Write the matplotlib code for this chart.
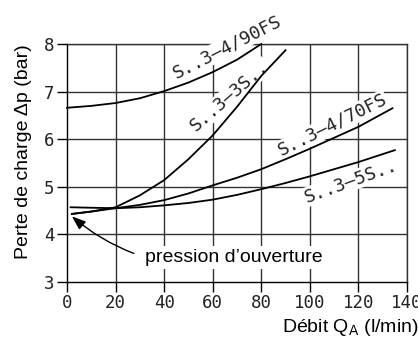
import matplotlib
matplotlib.use("Agg")
import matplotlib.pyplot as plt

# Data
q_90fs = [0, 10, 20, 30, 40, 50, 60, 70, 80]
p_90fs = [6.66, 6.70, 6.76, 6.86, 7.01, 7.19, 7.41, 7.67, 8.0]

q_3s = [2, 10, 20, 30, 40, 50, 60, 70, 80, 90]
p_3s = [4.43, 4.48, 4.57, 4.82, 5.14, 5.58, 6.08, 6.68, 7.33, 7.87]

q_70fs = [2, 10, 20, 30, 40, 50, 60, 70, 80, 90, 100, 110, 120, 134]
p_70fs = [4.43, 4.48, 4.55, 4.62, 4.72, 4.86, 5.03, 5.19, 5.37, 5.58, 5.80, 6.03, 6.26, 6.65]

q_5s = [1.5, 10, 20, 30, 40, 50, 60, 70, 80, 90, 100, 110, 120, 135]
p_5s = [4.57, 4.56, 4.55, 4.57, 4.61, 4.66, 4.73, 4.83, 4.95, 5.08, 5.22, 5.37, 5.52, 5.77]

curve_labels = ["S..3\u20134/90FS", "S..3\u20133S..", "S..3\u20134/70FS", "S..3\u20135S.."]

x_ticks = [0, 20, 40, 60, 80, 100, 120, 140]
y_ticks = [3, 4, 5, 6, 7, 8]

fig = plt.figure(figsize=(4.18, 3.40), dpi=100)
ax = fig.add_axes([67/418, 1-282/340, 340/418, 238/340])
ax.set_xlim(0, 140)
ax.set_ylim(3, 8)

grid_c = "#333333"
for xv in x_ticks[1:]:
    ax.axvline(xv, color=grid_c, lw=1.0, zorder=1)
for yv in y_ticks[1:]:
    ax.axhline(yv, color=grid_c, lw=1.0, zorder=1)

for s in ["top", "right"]:
    ax.spines[s].set_color(grid_c)
for s in ["left", "bottom"]:
    ax.spines[s].set_color("black")
for s in ax.spines.values():
    s.set_linewidth(1.0)
    s.set_zorder(1)

lc = "black"
ax.plot(q_90fs, p_90fs, color=lc, lw=1.3, zorder=3, clip_on=False)
ax.plot(q_3s, p_3s, color=lc, lw=1.3, zorder=3, clip_on=False)
ax.plot(q_70fs, p_70fs, color=lc, lw=1.3, zorder=3, clip_on=False)
ax.plot(q_5s, p_5s, color=lc, lw=1.3, zorder=3, clip_on=False)

mono = "DejaVu Sans Mono"
ax.set_xticks(x_ticks)
ax.set_yticks(y_ticks)
ax.set_xticklabels([str(v) for v in x_ticks], fontfamily=mono, fontsize=12.5, color="#222222")
ax.set_yticklabels([str(v) for v in y_ticks], fontfamily=mono, fontsize=12.5, color="#222222")
ax.tick_params(direction="out", length=7, width=1.0, color="black", pad=2)

bb = dict(boxstyle="square,pad=0.05", fc="white", ec="none")
lfs = 13
tc = "#222222"
ax.text(66, 7.94, curve_labels[0], rotation=27, ha="center", va="center",
        fontfamily=mono, fontsize=lfs, color=tc, bbox=bb, zorder=2, clip_on=False)
ax.text(67, 6.91, curve_labels[1], rotation=41, ha="center", va="center",
        fontfamily=mono, fontsize=lfs, color=tc, bbox=bb, zorder=2)
ax.text(109.2, 6.30, curve_labels[2], rotation=26.5, ha="center", va="center",
        fontfamily=mono, fontsize=lfs, color=tc, bbox=bb, zorder=2)
ax.text(117, 5.12, curve_labels[3], rotation=20, ha="center", va="center",
        fontfamily=mono, fontsize=lfs, color=tc, bbox=bb, zorder=2)

sans = "Liberation Sans"
ax.annotate("pression d\u2019ouverture", xy=(2, 4.38), xytext=(68.5, 3.52),
            ha="center", va="center", fontfamily=sans, fontsize=14,
            bbox=dict(boxstyle="square,pad=0.15", fc="white", ec="none"),
            arrowprops=dict(arrowstyle="-|>,head_length=0.6,head_width=0.22",
                            color="black", lw=1.0, shrinkA=6, shrinkB=0,
                            connectionstyle="arc3,rad=-0.1",
                            relpos=(0.0, 0.5)),
            zorder=2)

fig.text(24/418, 1-152/340, "Perte de charge \u0394p (bar)", rotation=90,
         ha="center", va="center", fontfamily=sans, fontsize=14)
fig.text(419/418, 1-327/340, "D\u00e9bit Q$_\\mathrm{A}$ (l/min)",
         ha="right", va="center", fontfamily=sans, fontsize=14)

fig.savefig("out.png", dpi=100)
